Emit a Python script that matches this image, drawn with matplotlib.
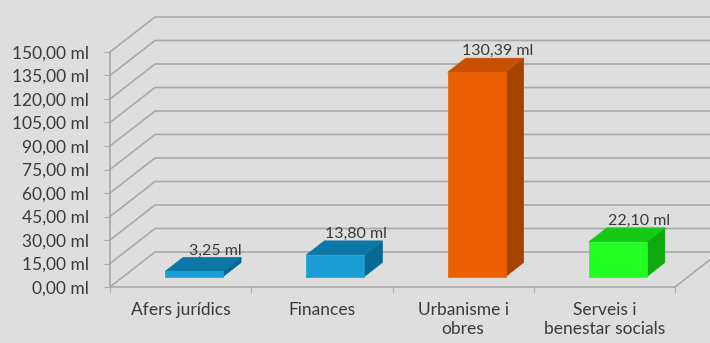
import matplotlib
matplotlib.use('Agg')
import matplotlib.pyplot as plt
from matplotlib.patches import Polygon
from matplotlib.transforms import IdentityTransform
import numpy as np

# Data
categories = ['Afers jurídics', 'Finances', 'Urbanisme i\nobres',
              'Serveis i\nbenestar socials']
values = [3.25, 13.80, 130.39, 22.10]
value_labels = ['3,25 ml', '13,80 ml', '130,39 ml', '22,10 ml']
y_ticks = list(range(0, 151, 15))

# (front, top, side) shades for each bar
bar_colors = [
    ('#1b9dd6', '#0b77a7', '#096894'),
    ('#1b9dd6', '#0b77a7', '#096894'),
    ('#ec5e02', '#c64f00', '#a54300'),
    ('#22ff22', '#17c917', '#0fa90f'),
]

BG = '#dedede'
GRID = '#a9a9a9'
TEXT = '#3a3a3a'
FONT = ['Lato', 'DejaVu Sans']

# depth of the 3D box in pixels (right, up)
DEPTH = np.array([45.0, 35.0])
BAR_FRONT, BAR_BACK = 0.3, 0.7
BAR_W = 0.41

plt.rcParams['font.family'] = FONT

W, H = 710, 343
fig = plt.figure(figsize=(W / 100, H / 100), dpi=100, facecolor=BG)
ax = fig.add_axes([110 / W, (H - 287) / H, 565 / W, 235 / H])
ax.set_facecolor('none')
ax.set_xlim(0, len(categories))
ax.set_ylim(0, 150)


def pt(x, y, d):
    """data point pushed back by depth fraction d, in display pixels"""
    px = ax.transData.transform((x, y))
    return px + DEPTH * d


def poly(points, color, z):
    p = Polygon(points, closed=True, facecolor=color, edgecolor=color,
                linewidth=0.5, transform=IdentityTransform(), zorder=z,
                clip_on=False)
    fig.add_artist(p)


fig.canvas.draw()
n = len(categories)

# back wall gridlines running into the depth from the front-left axis
for v in y_ticks:
    a = pt(0, v, 0)
    b = pt(0, v, 1)
    c = pt(n, v, 1) + np.array([60, 0])
    fig.add_artist(plt.Line2D([a[0], b[0], c[0]], [a[1], b[1], c[1]],
                              color=GRID, lw=1.2, transform=IdentityTransform(),
                              zorder=1))

# right edge of the floor
a = pt(n, 0, 0)
b = pt(n, 0, 1)
fig.add_artist(plt.Line2D([a[0], b[0]], [a[1], b[1]], color=GRID, lw=1.2,
                          transform=IdentityTransform(), zorder=1))

# bars
for i, (v, lab, (cf, ct, cs)) in enumerate(zip(values, value_labels, bar_colors)):
    x0 = i + 0.5 - BAR_W / 2
    x1 = i + 0.5 + BAR_W / 2
    front = [pt(x0, 0, BAR_FRONT), pt(x1, 0, BAR_FRONT),
             pt(x1, v, BAR_FRONT), pt(x0, v, BAR_FRONT)]
    top = [pt(x0, v, BAR_FRONT), pt(x1, v, BAR_FRONT),
           pt(x1, v, BAR_BACK), pt(x0, v, BAR_BACK)]
    side = [pt(x1, 0, BAR_FRONT), pt(x1, 0, BAR_BACK),
            pt(x1, v, BAR_BACK), pt(x1, v, BAR_FRONT)]
    poly(side, cs, 3)
    poly(top, ct, 3)
    poly(front, cf, 4)
    lp = pt(i + 0.5, v, BAR_BACK) + np.array([3, 0])
    fig.text(lp[0] / W, lp[1] / H, lab, ha='center', va='bottom',
             fontsize=11.5, color=TEXT, zorder=5)

# front axes: left vertical axis and floor front edge
for s in ['top', 'right']:
    ax.spines[s].set_visible(False)
for s in ['left', 'bottom']:
    ax.spines[s].set_color(GRID)
    ax.spines[s].set_linewidth(1.2)

ax.set_yticks(y_ticks)
ax.set_yticklabels([f'{t:.2f}'.replace('.', ',') + ' ml' for t in y_ticks])
ax.tick_params(axis='y', length=4, color=GRID, labelsize=12.5,
               labelcolor=TEXT, pad=11)

ax.set_xticks(np.arange(n) + 0.5)
ax.set_xticklabels(categories)
ax.set_xticks(np.arange(n + 1), minor=True)
ax.tick_params(axis='x', which='major', length=0, labelsize=12.5,
               labelcolor=TEXT, pad=11)
ax.tick_params(axis='x', which='minor', length=4, color=GRID)
for t in ax.get_xticklabels():
    t.set_linespacing(1.2)

fig.savefig('out.png', dpi=100, facecolor=BG)
